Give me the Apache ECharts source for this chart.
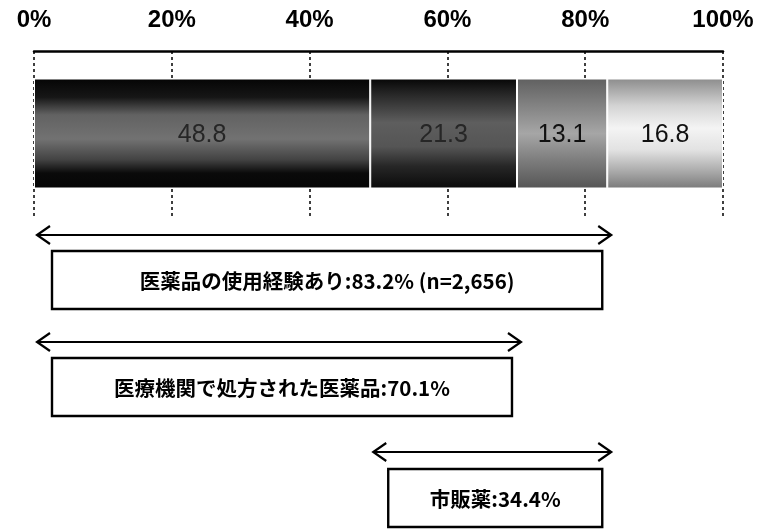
<!DOCTYPE html>
<html>
<head>
<meta charset="utf-8">
<script src="https://cdn.jsdelivr.net/npm/echarts@6/dist/echarts.min.js"></script>
<style>
  html, body { margin: 0; padding: 0; background: #fff; }
  #chart { width: 762px; height: 529px; }
</style>
</head>
<body>
<div id="chart"></div>
<script>
// Share of respondents by medicine use (%), left to right
const segmentNames = ['医療機関のみ', '両方', '市販薬のみ', '使用経験なし'];
const shares = [48.8, 21.3, 13.1, 16.8];
const tickValues = [0, 20, 40, 60, 80, 100];

// Bracketed spans: first and last segment index covered, and caption prefix
const spanFrom = [0, 0, 1];
const spanTo = [2, 1, 2];
const spanCaptions = ['医薬品の使用経験あり', '医療機関で処方された医薬品', '市販薬'];
const spanSuffix = [' (n=2,656)', '', ''];

// Vertical layout of each bracket row (pixels)
const arrowY = [235, 342, 452];
const boxTop = [251, 358, 469];
const boxHeight = 58;

const cumulative = [];
shares.reduce((acc, v, i) => { cumulative[i] = acc; return acc + v; }, 0);

const spanData = spanFrom.map((f, i) => {
  const start = cumulative[f];
  let total = 0;
  for (let k = f; k <= spanTo[i]; k++) total += shares[k];
  const end = start + total;
  return [start, end, i, Math.round(total * 10) / 10];
});

function grad(stops) {
  return new echarts.graphic.LinearGradient(0, 0, 0, 1,
    stops.map(s => ({ offset: s[0], color: s[1] })));
}

const fills = [
  grad([[0, '#050505'], [0.17, '#161616'], [0.33, '#626262'], [0.55, '#727272'], [0.74, '#424242'], [0.86, '#0a0a0a'], [1, '#050505']]),
  grad([[0, '#060606'], [0.12, '#222'], [0.4, '#5e5e5e'], [0.62, '#555'], [0.8, '#262626'], [1, '#0a0a0a']]),
  grad([[0, '#606060'], [0.3, '#8a8a8a'], [0.5, '#a6a6a6'], [0.75, '#7c7c7c'], [1, '#555']]),
  grad([[0, '#8c8c8c'], [0.25, '#d4d4d4'], [0.45, '#f4f4f4'], [0.65, '#e2e2e2'], [0.85, '#a8a8a8'], [1, '#7a7a7a']])
];
const labelColors = ['#262626', '#262626', '#111', '#111'];

const barSeries = shares.map((v, i) => ({
  name: segmentNames[i],
  type: 'bar',
  stack: 'total',
  barWidth: 110,
  data: [v],
  z: 3,
  itemStyle: { color: fills[i], borderColor: '#fff', borderWidth: 1 },
  label: {
    show: true,
    position: 'inside',
    offset: [0, 2],
    formatter: p => p.value.toFixed(1),
    color: labelColors[i],
    fontSize: 25,
    fontFamily: 'Liberation Sans, Arial, sans-serif'
  }
}));

const bracketSeries = {
  type: 'custom',
  coordinateSystem: 'cartesian2d',
  clip: false,
  z: 5,
  silent: true,
  encode: { x: [0, 1] },
  data: spanData,
  renderItem: function (params, api) {
    const xa = api.coord([api.value(0), 0])[0];
    const xb = api.coord([api.value(1), 0])[0];
    const row = api.value(2);
    const pct = api.value(3);
    const y = arrowY[row];
    const l = xa + 3, r = xb + 4;
    const lineStyle = { stroke: '#000', lineWidth: 2.2, fill: null };
    const bx = xa + 18, bw = (xb - 5) - bx;
    const top = boxTop[row];
    return {
      type: 'group',
      children: [
        { type: 'line', shape: { x1: l, y1: y, x2: r, y2: y }, style: lineStyle },
        { type: 'polyline', shape: { points: [[l + 13, y - 9], [l, y], [l + 13, y + 9]] }, style: lineStyle },
        { type: 'polyline', shape: { points: [[r - 13, y - 9], [r, y], [r - 13, y + 9]] }, style: lineStyle },
        { type: 'rect', shape: { x: bx, y: top, width: bw, height: boxHeight },
          style: { fill: '#fff', stroke: '#000', lineWidth: 2.4 } },
        { type: 'text',
          style: {
            x: bx + bw / 2, y: top + boxHeight / 2 + 1,
            text: spanCaptions[row] + ':' + pct.toFixed(1) + '%' + spanSuffix[row],
            align: 'center', verticalAlign: 'middle',
            fill: '#000',
            font: 'bold 20.5px "Noto Sans CJK JP", "Liberation Sans", sans-serif'
          } }
      ]
    };
  }
};

const chart = echarts.init(document.getElementById('chart'), null, { renderer: 'canvas' });
chart.setOption({
  animation: false,
  backgroundColor: '#fff',
  grid: { left: 34, right: 39, top: 51, bottom: 313, containLabel: false },
  xAxis: {
    type: 'value',
    position: 'top',
    min: tickValues[0],
    max: tickValues[tickValues.length - 1],
    interval: tickValues[1] - tickValues[0],
    axisLine: { show: true, lineStyle: { color: '#000', width: 2.5 } },
    axisTick: { show: false },
    axisLabel: {
      formatter: '{value}%',
      color: '#000',
      fontSize: 24,
      fontWeight: 'bold',
      fontFamily: 'Liberation Sans, Arial, sans-serif',
      margin: 19
    },
    splitLine: { show: true, lineStyle: { color: '#000', width: 1.5, type: [3, 3] } }
  },
  yAxis: {
    type: 'category',
    data: ['全体'],
    show: false
  },
  series: [...barSeries, bracketSeries]
});
</script>
</body>
</html>
